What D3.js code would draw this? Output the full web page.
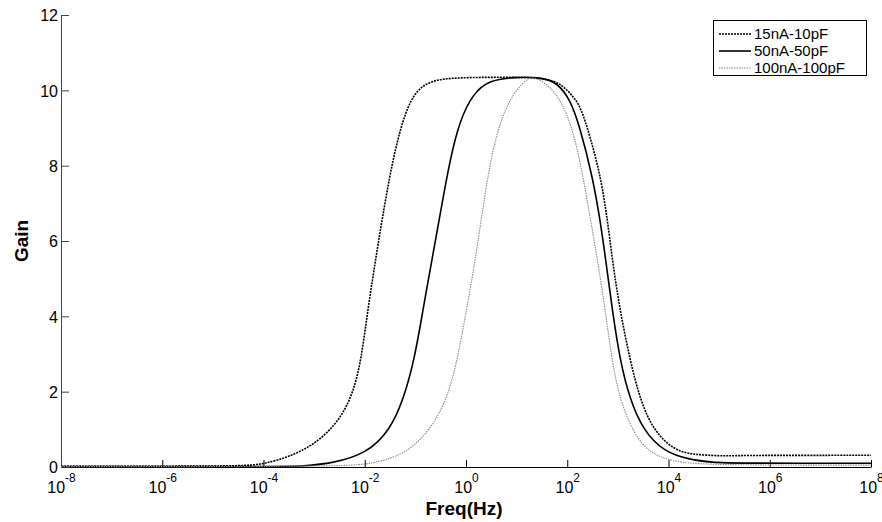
<!DOCTYPE html>
<html>
<head>
<meta charset="utf-8">
<script src="https://cdn.jsdelivr.net/npm/d3@7"></script>
<style>
	body { margin: 0; background: #fff; }
	svg { font-family: "Liberation Sans", Arial, sans-serif; }
	.tick text { font-size: 16px; fill: #000; }
	.axisLabel { font-size: 19px; font-weight: bold; }
	.legendText { font-size: 15px; }
</style>
</head>
<body>
<div id="container"></div>
<script>
// frequency values stored as log10(Hz)
var seriesNames = ["15nA-10pF", "50nA-50pF", "100nA-100pF"];

var logF1 = [-8, -5, -4.3, -4.0, -3.48, -2.95, -2.49, -2.23, -2.07, -1.94, -1.81, -1.66, -1.45, -1.25, -1.04, -0.71, -0.18, 0.8, 1.6, 1.9, 2.12, 2.27, 2.45, 2.63, 2.77, 2.90, 3.04, 3.24, 3.44, 3.70, 4.10, 4.49, 5.2, 5.35, 8];
var gain1 = [0.02, 0.02, 0.04, 0.08, 0.27, 0.63, 1.25, 1.96, 2.84, 4.17, 5.3, 6.56, 8.15, 9.21, 9.92, 10.27, 10.34, 10.35, 10.33, 10.15, 9.83, 9.55, 8.77, 7.88, 6.82, 5.4, 4.17, 2.84, 1.78, 0.98, 0.45, 0.32, 0.29, 0.31, 0.31];

var logF2 = [-8, -3.5, -3.28, -2.62, -1.96, -1.50, -1.24, -1.02, -0.85, -0.70, -0.53, -0.32, -0.12, 0.14, 0.47, 0.93, 1.5, 1.8, 2.05, 2.25, 2.50, 2.65, 2.78, 2.89, 3.04, 3.24, 3.50, 3.90, 4.42, 4.9, 5.2, 8];
var gain2 = [0.01, 0.01, 0.02, 0.1, 0.36, 0.98, 1.78, 2.84, 4.17, 5.3, 6.56, 8.15, 9.21, 9.92, 10.27, 10.35, 10.35, 10.2, 9.78, 9.03, 7.7, 6.56, 5.3, 4.17, 2.84, 1.78, 0.98, 0.41, 0.19, 0.12, 0.1, 0.1];

var logF3 = [-8, -2.5, -1.83, -1.17, -0.71, -0.38, -0.17, 0.01, 0.16, 0.30, 0.48, 0.68, 0.93, 1.2, 1.3, 1.55, 1.92, 2.19, 2.38, 2.52, 2.62, 2.75, 2.88, 3.04, 3.31, 3.63, 4.10, 4.75, 8];
var gain3 = [0.01, 0.01, 0.08, 0.36, 0.98, 1.78, 2.84, 4.17, 5.3, 6.56, 8.15, 9.21, 9.92, 10.3, 10.35, 10.25, 9.7, 8.59, 7.18, 6.11, 5.3, 4.17, 2.84, 1.78, 0.89, 0.36, 0.14, 0.05, 0.05];

var xTickExp = [-8, -6, -4, -2, 0, 2, 4, 6, 8];
var yTicks = [0, 2, 4, 6, 8, 10, 12];

var w = 882, h = 522;

var svg = d3.select("#container")
	.append("svg")
	.attr("width", w)
	.attr("height", h);

var x = d3.scaleLog().domain([1e-8, 1e8]).range([61, 871]);
var y = d3.scaleLinear().domain([0, 12]).range([467, 15]);

function toPoints(lf, g) {
	return lf.map(function(d, i) { return [Math.pow(10, d), g[i]]; });
}

var series = [
	{ pts: toPoints(logF1, gain1), color: "#000", width: 1.6, dash: "2,1" },
	{ pts: toPoints(logF2, gain2), color: "#000", width: 1.6, dash: null },
	{ pts: toPoints(logF3, gain3), color: "#8a8a8a", width: 1.1, dash: "1.5,1" }
];

// axes
var xAxis = d3.axisBottom(x)
	.tickValues(xTickExp.map(function(e) { return Math.pow(10, e); }))
	.tickSizeInner(-7)
	.tickSizeOuter(0)
	.tickFormat("");

var gx = svg.append("g")
	.attr("transform", "translate(0," + y(0) + ")")
	.call(xAxis);
gx.select(".domain").attr("stroke", "#000");
gx.selectAll(".tick line").attr("stroke", "#000");

gx.selectAll(".tick").each(function(d, i) {
	var t = d3.select(this).append("text")
		.attr("y", 26)
		.attr("text-anchor", "middle")
		.attr("fill", "#000")
		.style("font-size", "16px");
	t.append("tspan").text("10");
	t.append("tspan")
		.attr("dy", -11)
		.style("font-size", "12px")
		.text(xTickExp[i]);
});

var yAxis = d3.axisLeft(y)
	.tickValues(yTicks)
	.tickSizeInner(-8)
	.tickSizeOuter(0)
	.tickFormat(d3.format("d"));

var gy = svg.append("g")
	.attr("transform", "translate(" + x(1e-8) + ",0)")
	.call(yAxis);
gy.select(".domain").attr("stroke", "#444");
gy.selectAll(".tick line").attr("stroke", "#444");
gy.selectAll(".tick text").attr("x", -3).attr("dy", "0.36em");

// lines
var line = d3.line()
	.x(function(d) { return x(d[0]); })
	.y(function(d) { return y(d[1]); })
	.curve(d3.curveBasis);

series.forEach(function(s) {
	svg.append("path")
		.datum(s.pts)
		.attr("d", line)
		.attr("fill", "none")
		.attr("stroke", s.color)
		.attr("stroke-width", s.width)
		.attr("stroke-dasharray", s.dash);
});

// axis labels
svg.append("text")
	.attr("class", "axisLabel")
	.attr("x", 464)
	.attr("y", 515)
	.attr("text-anchor", "middle")
	.text("Freq(Hz)");

svg.append("text")
	.attr("class", "axisLabel")
	.attr("transform", "translate(28,241) rotate(-90)")
	.attr("text-anchor", "middle")
	.text("Gain");

// legend
var legend = svg.append("g");
legend.append("rect")
	.attr("x", 713.5)
	.attr("y", 20.5)
	.attr("width", 153)
	.attr("height", 55)
	.attr("fill", "#fff")
	.attr("stroke", "#000")
	.attr("stroke-width", 1);

series.forEach(function(s, i) {
	var ly = 34 + i * 17;
	legend.append("line")
		.attr("x1", 719).attr("x2", 751)
		.attr("y1", ly).attr("y2", ly)
		.attr("stroke", s.color)
		.attr("stroke-width", s.width)
		.attr("stroke-dasharray", s.dash);
	legend.append("text")
		.attr("class", "legendText")
		.attr("x", 754)
		.attr("y", ly + 5)
		.text(seriesNames[i]);
});
</script>
</body>
</html>
